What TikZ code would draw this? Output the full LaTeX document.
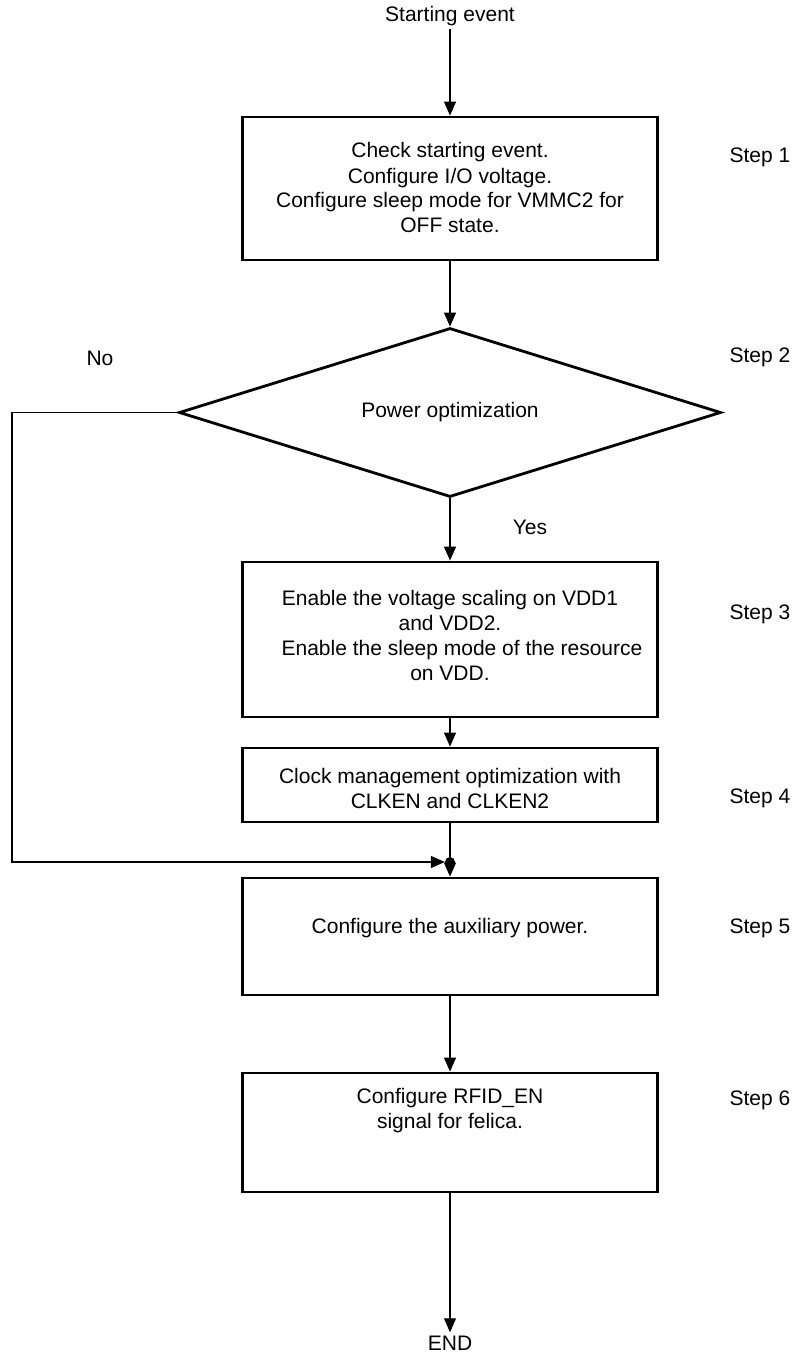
\documentclass[tikz,border=0pt]{standalone}
\usepackage{fontspec}
\setmainfont{Liberation Sans}
\usetikzlibrary{shapes.geometric, arrows.meta, positioning, calc}

\newcommand{\shifttext}[2]{\raisebox{#1}[\height][\depth]{\begin{tabular}{@{}c@{}}#2\end{tabular}}}

\begin{document}
\begin{tikzpicture}[x=1pt, y=1pt, font=\fontsize{21}{25}\selectfont]
\tikzstyle{stepbox} = [rectangle, draw=black, line width=2.8pt, minimum width=415pt, inner sep=0pt, align=center]
\tikzstyle{decision} = [diamond, draw=black, line width=2.8pt, aspect=3.2, minimum width=542pt, minimum height=169pt, inner sep=0pt]
\tikzstyle{line} = [draw, -{Triangle[length=14pt, width=12pt]}, line width=1.1pt]
\tikzstyle{plain} = [draw, line width=1.1pt]

\useasboundingbox (0,0) rectangle (793,-1359);

\node (start) at (450,-16) {Starting event};
\node (check) [stepbox, minimum height=143pt] at (450,-188.5) {\shifttext{-2pt}{Check starting event.\\ Configure I/O voltage.\\ Configure sleep mode for VMMC2 for\\ OFF state.}};
\node (power) [decision] at (450,-412.5) {Power optimization};
\node (scale) [stepbox, minimum height=155pt] at (450,-639.5) {\shifttext{2pt}{Enable the voltage scaling on VDD1\\ and VDD2.\\ \hspace*{24pt}Enable the sleep mode of the resource\\ on VDD.}};
\node (clock) [stepbox, minimum height=74pt] at (450,-785) {\shifttext{-6pt}{Clock management optimization with\\ CLKEN and CLKEN2}};
\node (join) [circle, fill=black, inner sep=0pt, minimum size=10pt] at (450,-862) {};
\node (aux) [stepbox, minimum height=117pt] at (450,-936.5) {\shifttext{8pt}{Configure the auxiliary power.}};
\node (rfid) [stepbox, minimum height=119pt] at (450,-1132.5) {\shifttext{22pt}{Configure RFID\_EN\\ signal for felica.}};
\node (end) at (450,-1343) {END};
\coordinate (nobend) at (12,-412.5);

\node (no) at (100,-358) {No};
\node (yes) at (530,-527) {Yes};
\foreach \n/\y in {1/157, 2/357, 3/614, 4/798, 5/928, 6/1100}
    \node (step\n) at (760,-\y) {Step \n};

\draw [line] (start) -- (check);
\draw [line] (check) -- (power);
\draw [line] (power) -- (scale);
\draw [line] (scale) -- (clock);
\draw [plain] (clock) -- (join);
\draw [line] (power.west) -- (nobend) |- (join.west);
\draw [line] (join) -- (aux);
\draw [line] (aux) -- (rfid);
\draw [line] (rfid) -- (end);
\end{tikzpicture}
\end{document}
